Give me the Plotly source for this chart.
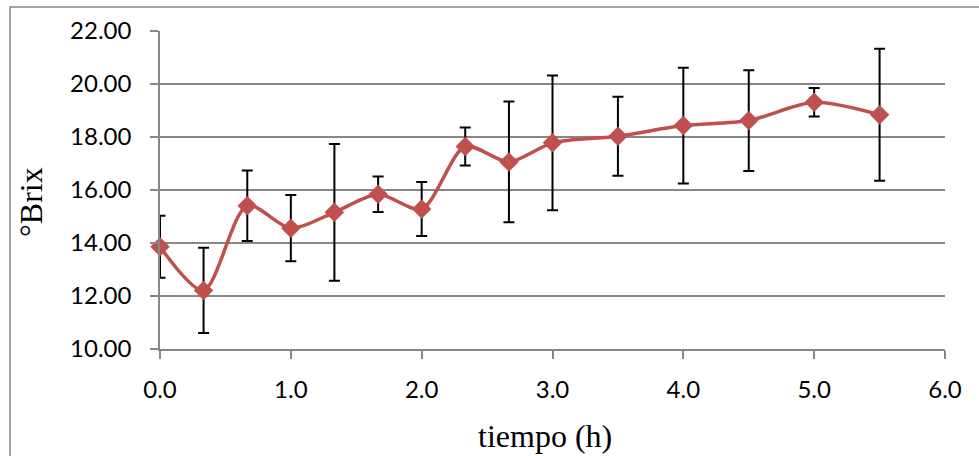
import plotly.graph_objects as go

tiempo = [0.0, 0.333, 0.667, 1.0, 1.333, 1.667, 2.0, 2.333, 2.667, 3.0, 3.5, 4.0, 4.5, 5.0, 5.5]
brix = [13.86, 12.21, 15.41, 14.56, 15.16, 15.84, 15.28, 17.64, 17.06, 17.78, 18.03, 18.43, 18.62, 19.31, 18.84]
error = [1.17, 1.61, 1.33, 1.25, 2.58, 0.67, 1.02, 0.72, 2.28, 2.54, 1.49, 2.18, 1.90, 0.54, 2.49]

y_ticks = [10, 12, 14, 16, 18, 20, 22]
x_ticks = [0, 1, 2, 3, 4, 5, 6]

W, H = 979, 456
L, R, T, B = 160, 34, 31, 107
pw, ph = W - L - R, H - T - B

fig = go.Figure()
fig.add_trace(go.Scatter(
    x=tiempo, y=brix,
    mode="lines+markers",
    line=dict(color="#C0504D", width=3.5, shape="spline", smoothing=0.8),
    marker=dict(symbol="diamond", size=15, color="#C0504D"),
    error_y=dict(type="data", array=error, visible=True, color="black", thickness=2, width=5.5),
    cliponaxis=False,
    showlegend=False,
))

grid_col = "#878787"
fig.update_layout(
    width=W, height=H,
    margin=dict(l=L, r=R, t=T, b=B),
    paper_bgcolor="white", plot_bgcolor="white",
    xaxis=dict(
        range=[0, 6], tickvals=x_ticks, tickformat=".1f",
        showgrid=False, zeroline=False, automargin=False,
        showline=True, linecolor=grid_col, linewidth=1.5,
        ticks="outside", ticklen=8, tickcolor=grid_col, tickwidth=1.5,
        tickfont=dict(family="Lato", size=24, color="black"),
        ticklabelstandoff=10,
    ),
    yaxis=dict(
        range=[10, 22], tickvals=y_ticks, tickformat=".2f",
        showgrid=True, gridcolor=grid_col, gridwidth=1.5,
        zeroline=False, automargin=False,
        showline=True, linecolor=grid_col, linewidth=1.5,
        ticks="outside", ticklen=8, tickcolor=grid_col, tickwidth=1.5,
        tickfont=dict(family="Lato", size=24, color="black"),
        ticklabelstandoff=14,
    ),
)

def px_x(p):
    return (p - L) / pw

def px_y(p):
    return 1 - (p - T) / ph

fig.add_annotation(text="tiempo (h)", xref="paper", yref="paper",
                   x=px_x(545), y=px_y(436), xanchor="center", yanchor="middle",
                   showarrow=False, font=dict(family="Liberation Serif", size=32, color="black"))
fig.add_annotation(text="°Brix", xref="paper", yref="paper",
                   x=px_x(31), y=px_y(202), xanchor="center", yanchor="middle", textangle=-90,
                   showarrow=False, font=dict(family="Liberation Serif", size=32, color="black"))

# outer chart border
fig.add_shape(type="rect", xref="paper", yref="paper",
              x0=px_x(10), x1=1.2, y0=-0.5, y1=px_y(7),
              line=dict(color=grid_col, width=1.5), fillcolor="rgba(0,0,0,0)", layer="below")

fig.write_html("out.html", config={"displayModeBar": False},
               post_script="document.body.style.margin='0';document.body.style.overflow='hidden';")
